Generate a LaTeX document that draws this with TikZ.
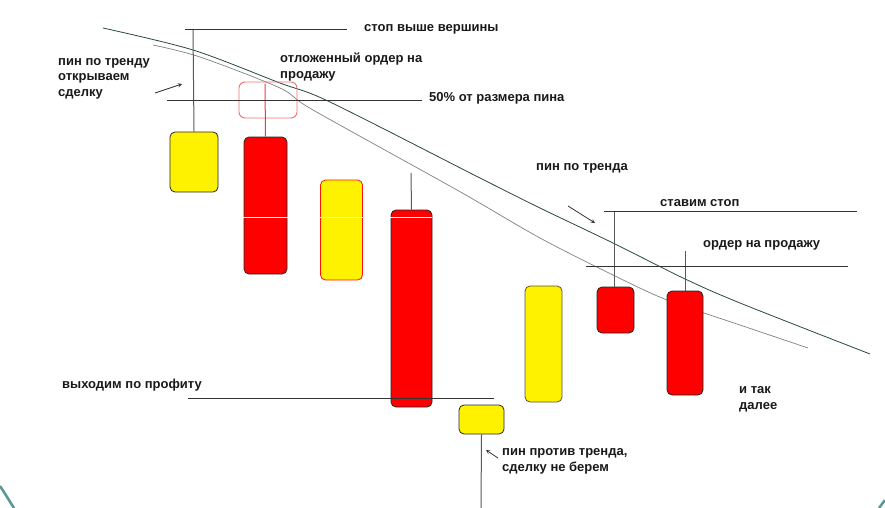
\documentclass[tikz,border=0pt]{standalone}
\usepackage{fontspec}
\setmainfont{Liberation Sans}
\begin{document}
\begin{tikzpicture}[x=1pt,y=-1pt,
  lbl/.style={anchor=base west,inner sep=0pt,font=\fontsize{13}{16}\selectfont\bfseries,text=black!90,align=left},
  candle/.style={draw=black!85,line width=0.8pt,rounded corners=5pt,inner sep=0pt,minimum width=#1},
  redc/.style={candle=1pt,fill=red},
  yelc/.style={candle=1pt,fill=yellow},
  thin/.style={draw=black!80,line width=0.8pt},
  wick/.style={draw=black!65,line width=1pt}]
\useasboundingbox (0,0) rectangle (885,508);
% decorative teal arcs
\draw[draw={rgb,255:red,90;green,150;blue,150},line width=2.5pt] (0,486) .. controls (6,495) and (10,502) .. (14,508);
\draw[draw={rgb,255:red,90;green,150;blue,150},line width=2.5pt] (879,508) -- (885,500);
% trend curves
\draw[draw={rgb,255:red,40;green,70;blue,70},line width=0.8pt] plot[smooth,tension=0.5] coordinates {(103,28) (193,50) (280,83) (330,102) (480,178) (540,208) (613,243) (683,278) (740,303) (870,354)};
\draw[draw=black!50,line width=0.7pt] plot[smooth,tension=0.5] coordinates {(153,45) (200,57) (280,88) (313,110) (457,190) (540,238) (613,275) (667,300) (740,325) (808,348)};
% candles
\node[yelc,minimum width=48pt,minimum height=60pt] (c1) at (194,162) {};
\node[redc,minimum width=43pt,minimum height=137pt] (c2) at (265.5,205.5) {};
\node[candle=1pt,fill=yellow,draw=red!85!orange,minimum width=42pt,minimum height=100pt] (c3) at (341.5,230) {};
\node[redc,minimum width=41pt,minimum height=197pt] (c4) at (411.5,308.5) {};
\node[yelc,minimum width=45pt,minimum height=29pt] (c5) at (481.5,419.5) {};
\node[candle=1pt,fill=yellow,draw=black!60!yellow!60!black,minimum width=37pt,minimum height=116pt] (c6) at (543.5,344) {};
\node[redc,minimum width=37pt,minimum height=46pt] (c7) at (615.5,310) {};
\node[redc,minimum width=36pt,minimum height=104pt] (c8) at (685,343) {};
% pending order box
\node[draw={rgb,255:red,240;green,110;blue,110},line width=0.9pt,rounded corners=6pt,minimum width=58pt,minimum height=36pt,inner sep=0pt] (po) at (268,100) {};
% white line across candles
\draw[white,line width=1pt] (243,217) -- (432,217);
% wicks
\coordinate (t1) at (193,29);
\draw[wick] (t1) -- (c1.north);
\coordinate (t2) at (265,84);
\draw[draw=red!80,line width=1pt] (t2) -- (c2.north);
\coordinate (t4) at (411,173);
\draw[wick] (t4) -- (c4.north);
\coordinate (b5) at (481,508);
\draw[wick] (c5.south) -- (b5);
\coordinate (t7) at (614,211);
\draw[wick] (t7) -- (c7.north -| t7);
\coordinate (t8) at (685,251);
\draw[wick] (t8) -- (c8.north);
% horizontal level lines
\coordinate (s1a) at (185,29); \coordinate (s1b) at (347,29);
\draw[thin] (s1a) -- (s1b);
\coordinate (h50a) at (167,100); \coordinate (h50b) at (422,100);
\draw[thin] (h50a) -- (h50b);
\coordinate (pfa) at (188,398); \coordinate (pfb) at (494,398);
\draw[thin] (pfa) -- (pfb);
\coordinate (sta) at (604,211); \coordinate (stb) at (857,211);
\draw[thin] (sta) -- (stb);
\coordinate (ora) at (586,266); \coordinate (orb) at (848,266);
\draw[thin] (ora) -- (orb);
% arrows
\coordinate (a1s) at (155,93); \coordinate (a1e) at (182,84);
\draw[thin,-stealth] (a1s) -- (a1e);
\coordinate (a2s) at (568,206); \coordinate (a2e) at (595,223);
\draw[thin,-stealth] (a2s) -- (a2e);
\coordinate (a3s) at (498,458); \coordinate (a3e) at (486,450);
\draw[thin,-stealth] (a3s) -- (a3e);
% labels
\node[lbl] (l1) at (364,32) {стоп выше вершины};
\node[lbl] (l2) at (58,97) {пин по тренду\\открываем\\сделку};
\node[lbl] (l3) at (280,79) {отложенный ордер на\\продажу};
\node[lbl] (l4) at (429,102) {50\% от размера пина};
\node[lbl] (l5) at (536,170) {пин по тренда};
\node[lbl] (l6) at (660,206) {ставим стоп};
\node[lbl] (l7) at (703,247) {ордер на продажу};
\node[lbl] (l8) at (62,388) {выходим по профиту};
\node[lbl] (l9) at (739,409) {и так\\далее};
\node[lbl] (l10) at (502,471) {пин против тренда,\\сделку не берем};
\end{tikzpicture}
\end{document}
